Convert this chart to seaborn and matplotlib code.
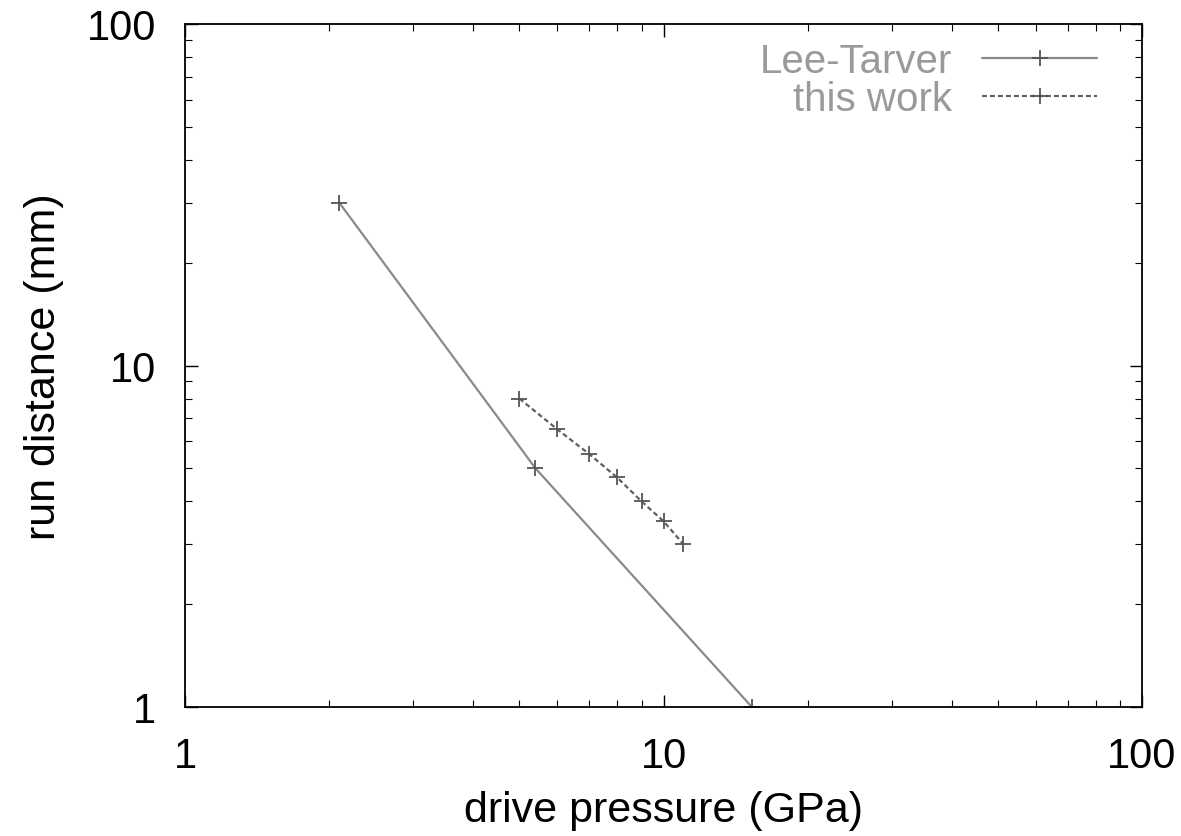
import matplotlib
matplotlib.use("Agg")
import matplotlib.pyplot as plt
import seaborn as sns
import pandas as pd
from matplotlib.ticker import LogLocator, NullFormatter, FixedLocator, FixedFormatter

# Data
lt_pressure = [2.1, 5.4, 15.3]
lt_distance = [30.0, 5.0, 1.0]
tw_pressure = [5.0, 6.0, 7.0, 8.0, 9.0, 10.0, 11.0]
tw_distance = [8.0, 6.5, 5.5, 4.7, 4.0, 3.5, 3.0]
series_names = ["Lee-Tarver", "this work"]
tick_values = [1, 10, 100]
tick_labels = ["1", "10", "100"]

df = pd.concat([
    pd.DataFrame({"p": lt_pressure, "d": lt_distance, "s": series_names[0]}),
    pd.DataFrame({"p": tw_pressure, "d": tw_distance, "s": series_names[1]}),
])

sns.set_theme(style="white")
plt.rcParams["font.family"] = ["Liberation Sans", "DejaVu Sans"]

W, H = 1181, 837
fig = plt.figure(figsize=(W / 100, H / 100), dpi=100)
ax = fig.add_axes([185 / W, 1 - 708 / H, (1142 - 185) / W, (708 - 25) / H])

sns.lineplot(data=df, x="p", y="d", hue="s", style="s",
             palette={"Lee-Tarver": "#8a8a8a", "this work": "#606060"},
             dashes={"Lee-Tarver": "", "this work": (2.2, 1.4)},
             markers={"Lee-Tarver": "+", "this work": "+"},
             markersize=12, markeredgewidth=1.3, markeredgecolor="#555555",
             linewidth=1.6, sort=False, estimator=None, ax=ax, legend=True)

ax.set_xscale("log")
ax.set_yscale("log")
ax.set_xlim(1, 100)
ax.set_ylim(1, 100)

for axis in (ax.xaxis, ax.yaxis):
    axis.set_major_locator(FixedLocator(tick_values))
    axis.set_major_formatter(FixedFormatter(tick_labels))
    axis.set_minor_locator(LogLocator(base=10, subs=range(2, 10)))
    axis.set_minor_formatter(NullFormatter())

ax.tick_params(which="both", direction="in", top=True, right=True,
               bottom=True, left=True, colors="black")
ax.tick_params(which="major", length=9, width=1, labelsize=30, pad=21)
ax.tick_params(which="minor", length=5, width=0.8)
for sp in ax.spines.values():
    sp.set_color("black")
    sp.set_linewidth(1.3)

ax.set_xlabel("drive pressure (GPa)", fontsize=31, labelpad=10, color="black")
ax.set_ylabel("run distance (mm)", fontsize=31, labelpad=16, color="black")

leg = ax.legend(loc="upper right", bbox_to_anchor=(1097 / W, 1 - 43 / H),
                bbox_transform=fig.transFigure, frameon=False, fontsize=29,
                markerfirst=False, handlelength=2.85, borderaxespad=0,
                borderpad=0, labelspacing=0.0, handletextpad=0.75)
for t in leg.get_texts():
    t.set_color("#9a9a9a")
    t.set_ha("right")

fig.savefig("out.png", dpi=100)
